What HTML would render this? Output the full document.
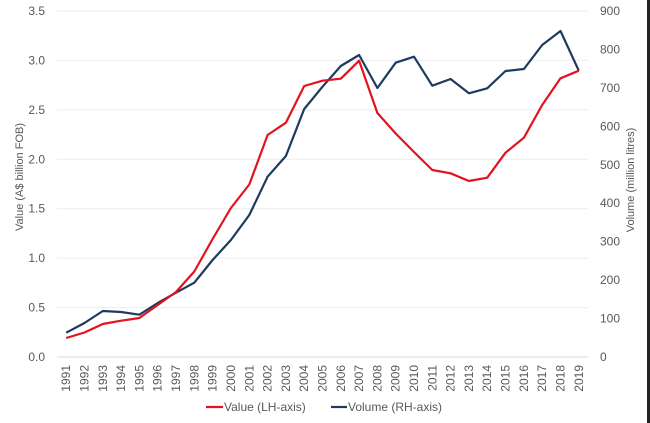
<!DOCTYPE html>
<html>
<head>
<meta charset="utf-8">
<style>
html,body{margin:0;padding:0;background:#fff;}
svg{display:block;}
text{font-family:"Liberation Sans",Arial,sans-serif;fill:#595959;}
</style>
</head>
<body>
<svg width="650" height="423" viewBox="0 0 650 423" xmlns="http://www.w3.org/2000/svg">
<rect x="0" y="0" width="650" height="423" fill="#fff"/>
<rect x="647" y="0" width="3" height="423" fill="#222"/>
<g stroke="#ececec" stroke-width="1">
<line x1="57" y1="11" x2="588" y2="11"/>
<line x1="57" y1="60.4" x2="588" y2="60.4"/>
<line x1="57" y1="109.9" x2="588" y2="109.9"/>
<line x1="57" y1="159.3" x2="588" y2="159.3"/>
<line x1="57" y1="208.7" x2="588" y2="208.7"/>
<line x1="57" y1="258.1" x2="588" y2="258.1"/>
<line x1="57" y1="307.6" x2="588" y2="307.6"/>
</g>
<line x1="57" y1="357" x2="588" y2="357" stroke="#d9d9d9" stroke-width="1"/>
<g font-size="12" text-anchor="end">
<text x="45" y="361">0.0</text>
<text x="45" y="311.6">0.5</text>
<text x="45" y="262.1">1.0</text>
<text x="45" y="212.7">1.5</text>
<text x="45" y="163.3">2.0</text>
<text x="45" y="113.9">2.5</text>
<text x="45" y="64.4">3.0</text>
<text x="45" y="15">3.5</text>
</g>
<g font-size="12" text-anchor="start">
<text x="600" y="361">0</text>
<text x="600" y="322.6">100</text>
<text x="600" y="284.1">200</text>
<text x="600" y="245.7">300</text>
<text x="600" y="207.2">400</text>
<text x="600" y="168.8">500</text>
<text x="600" y="130.4">600</text>
<text x="600" y="91.9">700</text>
<text x="600" y="53.5">800</text>
<text x="600" y="15">900</text>
</g>
<text font-size="11" text-anchor="middle" transform="translate(23,177) rotate(-90)">Value (A$ billion FOB)</text>
<text font-size="11" text-anchor="middle" transform="translate(634,180) rotate(-90)">Volume (million litres)</text>
<g font-size="12" text-anchor="end">
<text transform="translate(70.2,365) rotate(-90)">1991</text>
<text transform="translate(88.5,365) rotate(-90)">1992</text>
<text transform="translate(106.8,365) rotate(-90)">1993</text>
<text transform="translate(125.1,365) rotate(-90)">1994</text>
<text transform="translate(143.4,365) rotate(-90)">1995</text>
<text transform="translate(161.7,365) rotate(-90)">1996</text>
<text transform="translate(180.0,365) rotate(-90)">1997</text>
<text transform="translate(198.3,365) rotate(-90)">1998</text>
<text transform="translate(216.6,365) rotate(-90)">1999</text>
<text transform="translate(234.9,365) rotate(-90)">2000</text>
<text transform="translate(253.3,365) rotate(-90)">2001</text>
<text transform="translate(271.6,365) rotate(-90)">2002</text>
<text transform="translate(289.9,365) rotate(-90)">2003</text>
<text transform="translate(308.2,365) rotate(-90)">2004</text>
<text transform="translate(326.5,365) rotate(-90)">2005</text>
<text transform="translate(344.8,365) rotate(-90)">2006</text>
<text transform="translate(363.1,365) rotate(-90)">2007</text>
<text transform="translate(381.4,365) rotate(-90)">2008</text>
<text transform="translate(399.7,365) rotate(-90)">2009</text>
<text transform="translate(418.0,365) rotate(-90)">2010</text>
<text transform="translate(436.3,365) rotate(-90)">2011</text>
<text transform="translate(454.6,365) rotate(-90)">2012</text>
<text transform="translate(472.9,365) rotate(-90)">2013</text>
<text transform="translate(491.2,365) rotate(-90)">2014</text>
<text transform="translate(509.5,365) rotate(-90)">2015</text>
<text transform="translate(527.9,365) rotate(-90)">2016</text>
<text transform="translate(546.2,365) rotate(-90)">2017</text>
<text transform="translate(564.5,365) rotate(-90)">2018</text>
<text transform="translate(582.8,365) rotate(-90)">2019</text>
</g>
<polyline fill="none" stroke="#1f3a5f" stroke-width="2.2" stroke-linejoin="round" points="66.2,332.7 84.5,323 102.8,311 121.1,312 139.4,314.7 157.7,303 176.0,292.7 194.3,282.7 212.6,260 230.9,240 249.3,215 267.6,176.7 285.9,156 304.2,109 322.5,86.7 340.8,66 359.1,55 377.4,88 395.7,62.7 414.0,56.7 432.3,85.7 450.6,79 468.9,93.3 487.2,88.3 505.5,71 523.9,69 542.2,45 560.5,31 578.8,70.7"/>
<polyline fill="none" stroke="#e3121e" stroke-width="2.2" stroke-linejoin="round" points="66.2,338 84.5,332.5 102.8,324 121.1,320.7 139.4,318 157.7,305 176.0,292 194.3,271.5 212.6,239 230.9,208 249.3,184.5 267.6,135 285.9,122.7 304.2,86 322.5,80.7 340.8,78.7 359.1,60.7 377.4,113 395.7,133.5 414.0,152 432.3,170 450.6,173.3 468.9,181 487.2,177.7 505.5,152.7 523.9,137.7 542.2,105 560.5,78.3 578.8,70.7"/>
<line x1="206" y1="407" x2="223" y2="407" stroke="#e3121e" stroke-width="2.2"/>
<text x="224" y="411" font-size="12">Value (LH-axis)</text>
<line x1="331" y1="407" x2="347" y2="407" stroke="#1f3a5f" stroke-width="2.2"/>
<text x="348" y="411" font-size="12">Volume (RH-axis)</text>
</svg>
</body>
</html>
